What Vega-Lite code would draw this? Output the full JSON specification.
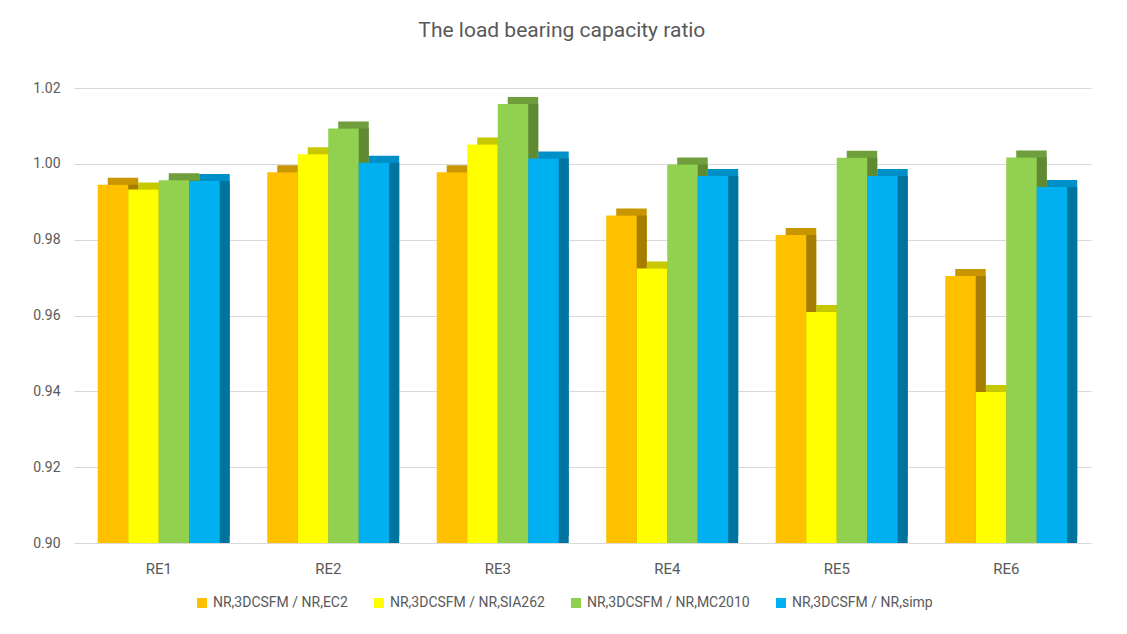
{
  "$schema": "https://vega.github.io/schema/vega-lite/v6.json",
  "width": 1017,
  "height": 455,
  "autosize": {"type": "none"},
  "padding": {"left": 74, "top": 88, "right": 36, "bottom": 91},
  "background": "white",
  "title": {
    "text": "The load bearing capacity ratio",
    "font": "Roboto",
    "fontSize": 21,
    "fontWeight": "normal",
    "color": "#595959",
    "frame": "bounds",
    "offset": 40
  },
  "config": {
    "view": {"stroke": null},
    "axis": {"labelFont": "Roboto", "labelFontSize": 14, "labelColor": "#595959"},
    "legend": {
      "orient": "none",
      "legendX": 121,
      "legendY": 508,
      "direction": "horizontal",
      "title": null,
      "symbolType": "square",
      "symbolSize": 100,
      "symbolStrokeWidth": 0,
      "labelFont": "Roboto",
      "labelFontSize": 14,
      "labelColor": "#595959",
      "labelLimit": 300,
      "labelOffset": 4,
      "columnPadding": 24
    }
  },
  "data": {
    "values": [
      {"cat": "RE1", "series": "NR,3DCSFM / NR,EC2", "value": 0.9945},
      {"cat": "RE1", "series": "NR,3DCSFM / NR,SIA262", "value": 0.9932},
      {"cat": "RE1", "series": "NR,3DCSFM / NR,MC2010", "value": 0.9957},
      {"cat": "RE1", "series": "NR,3DCSFM / NR,simp", "value": 0.9955},
      {"cat": "RE2", "series": "NR,3DCSFM / NR,EC2", "value": 0.9978},
      {"cat": "RE2", "series": "NR,3DCSFM / NR,SIA262", "value": 1.0025},
      {"cat": "RE2", "series": "NR,3DCSFM / NR,MC2010", "value": 1.0093},
      {"cat": "RE2", "series": "NR,3DCSFM / NR,simp", "value": 1.0003},
      {"cat": "RE3", "series": "NR,3DCSFM / NR,EC2", "value": 0.9978},
      {"cat": "RE3", "series": "NR,3DCSFM / NR,SIA262", "value": 1.0051},
      {"cat": "RE3", "series": "NR,3DCSFM / NR,MC2010", "value": 1.0158},
      {"cat": "RE3", "series": "NR,3DCSFM / NR,simp", "value": 1.0014},
      {"cat": "RE4", "series": "NR,3DCSFM / NR,EC2", "value": 0.9864},
      {"cat": "RE4", "series": "NR,3DCSFM / NR,SIA262", "value": 0.9724},
      {"cat": "RE4", "series": "NR,3DCSFM / NR,MC2010", "value": 0.9998},
      {"cat": "RE4", "series": "NR,3DCSFM / NR,simp", "value": 0.9968},
      {"cat": "RE5", "series": "NR,3DCSFM / NR,EC2", "value": 0.9812},
      {"cat": "RE5", "series": "NR,3DCSFM / NR,SIA262", "value": 0.9609},
      {"cat": "RE5", "series": "NR,3DCSFM / NR,MC2010", "value": 1.0016},
      {"cat": "RE5", "series": "NR,3DCSFM / NR,simp", "value": 0.9968},
      {"cat": "RE6", "series": "NR,3DCSFM / NR,EC2", "value": 0.9704},
      {"cat": "RE6", "series": "NR,3DCSFM / NR,SIA262", "value": 0.9398},
      {"cat": "RE6", "series": "NR,3DCSFM / NR,MC2010", "value": 1.0017},
      {"cat": "RE6", "series": "NR,3DCSFM / NR,simp", "value": 0.9939}
    ]
  },
  "encoding": {
    "x": {
      "field": "cat",
      "type": "nominal",
      "scale": {"paddingInner": 0.28, "paddingOuter": 0.14},
      "axis": {"title": null, "labelAngle": 0, "labelFontSize": 15, "domain": false, "ticks": false, "labelPadding": 18}
    },
    "y": {
      "field": "value",
      "type": "quantitative",
      "scale": {"domain": [0.9, 1.02], "zero": false, "nice": false},
      "axis": {
        "title": null,
        "values": [0.9, 0.92, 0.94, 0.96, 0.98, 1.0, 1.02],
        "format": ".2f",
        "domain": false,
        "ticks": false,
        "gridColor": "#d9d9d9",
        "labelPadding": 14
      }
    },
    "y2": {"datum": 0.9}
  },
  "layer": [
    {
      "mark": {"type": "bar", "yOffset": -7, "y2Offset": -7},
      "encoding": {
        "xOffset": {
          "field": "series",
          "scale": {
            "domain": ["NR,3DCSFM / NR,EC2", "NR,3DCSFM / NR,SIA262", "NR,3DCSFM / NR,MC2010", "NR,3DCSFM / NR,simp"],
            "range": [10, 132]
          }
        },
        "color": {
          "field": "series",
          "legend": null,
          "scale": {
            "domain": ["NR,3DCSFM / NR,EC2", "NR,3DCSFM / NR,SIA262", "NR,3DCSFM / NR,MC2010", "NR,3DCSFM / NR,simp"],
            "range": ["#c89600", "#c8c800", "#6f9e3c", "#0090c8"]
          }
        }
      }
    },
    {
      "mark": {"type": "bar"},
      "encoding": {
        "xOffset": {
          "field": "series",
          "scale": {
            "domain": ["NR,3DCSFM / NR,EC2", "NR,3DCSFM / NR,SIA262", "NR,3DCSFM / NR,MC2010", "NR,3DCSFM / NR,simp"],
            "range": [10, 132]
          }
        },
        "color": {
          "field": "series",
          "legend": null,
          "scale": {
            "domain": ["NR,3DCSFM / NR,EC2", "NR,3DCSFM / NR,SIA262", "NR,3DCSFM / NR,MC2010", "NR,3DCSFM / NR,simp"],
            "range": ["#a67d00", "#a6a600", "#5f8a33", "#00739f"]
          }
        }
      }
    },
    {
      "mark": {"type": "bar"},
      "encoding": {
        "xOffset": {
          "field": "series",
          "scale": {
            "domain": ["NR,3DCSFM / NR,EC2", "NR,3DCSFM / NR,SIA262", "NR,3DCSFM / NR,MC2010", "NR,3DCSFM / NR,simp"],
            "range": [0, 122]
          }
        },
        "color": {
          "field": "series",
          "scale": {
            "domain": ["NR,3DCSFM / NR,EC2", "NR,3DCSFM / NR,SIA262", "NR,3DCSFM / NR,MC2010", "NR,3DCSFM / NR,simp"],
            "range": ["#ffc000", "#ffff00", "#92d050", "#00b0f0"]
          }
        }
      }
    }
  ],
  "resolve": {"scale": {"xOffset": "independent", "color": "independent"}}
}
